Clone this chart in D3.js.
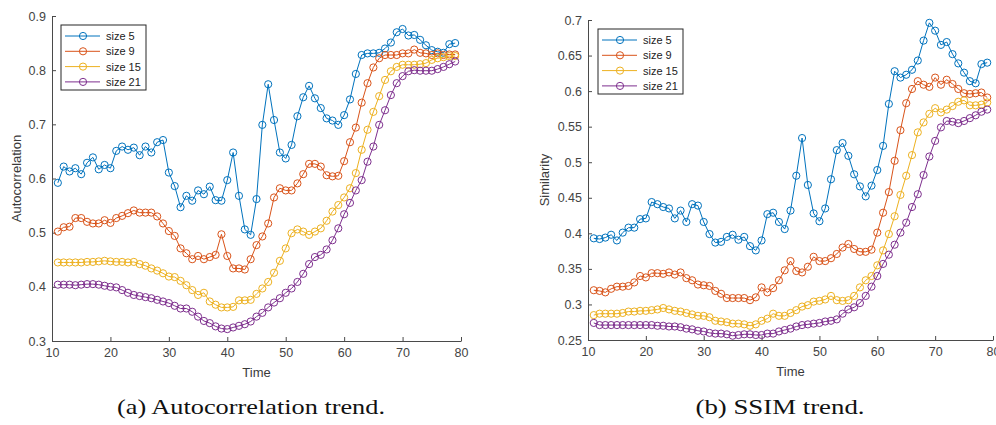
<!DOCTYPE html>
<html lang="en">
<head>
  <meta charset="UTF-8">
  <title>Autocorrelation and SSIM trend</title>
  <script src="https://d3js.org/d3.v7.min.js"></script>
  <style>
    body { margin: 0; background: #fff; }
    svg text { font-family: "Liberation Sans", Arial, sans-serif; }
    .tick text { font-size: 12.5px; fill: #444; }
    .tick line, .domain { stroke: #4a4a4a; }
    .caption { font-family: "Liberation Serif", serif !important; font-size: 22px; fill: #111; }
  </style>
</head>
<body>
  <div id="chart"></div>

  <script>
    const times = [11, 12, 13, 14, 15, 16, 17, 18, 19, 20, 21, 22, 23, 24, 25, 26, 27, 28, 29, 30,
      31, 32, 33, 34, 35, 36, 37, 38, 39, 40, 41, 42, 43, 44, 45, 46, 47, 48, 49, 50,
      51, 52, 53, 54, 55, 56, 57, 58, 59, 60, 61, 62, 63, 64, 65, 66, 67, 68, 69, 70,
      71, 72, 73, 74, 75, 76, 77, 78, 79];
    const seriesNames = ["size 5", "size 9", "size 15", "size 21"];
    const xTicks = [10, 20, 30, 40, 50, 60, 70, 80];
    const acTicks = [0.3, 0.4, 0.5, 0.6, 0.7, 0.8, 0.9];
    const ssTicks = [0.25, 0.3, 0.35, 0.4, 0.45, 0.5, 0.55, 0.6, 0.65, 0.7];

    // (a) autocorrelation
    const acSize5 = [.592, .622, .613, .619, .608, .629, .639, .617, .625, .619,
      .651, .659, .653, .657, .643, .659, .648, .667, .671, .611,
      .586, .547, .568, .559, .578, .571, .585, .560, .559, .597,
      .648, .568, .506, .496, .562, .699, .774, .708, .648, .637,
      .662, .715, .750, .771, .748, .730, .711, .707, .699, .717,
      .746, .793, .828, .831, .831, .832, .840, .851, .870, .876,
      .864, .865, .856, .846, .837, .834, .832, .848, .850];
    const acSize9 = [.502, .510, .511, .527, .527, .520, .517, .517, .523, .518,
      .527, .531, .536, .541, .537, .537, .537, .530, .517, .503,
      .494, .471, .462, .451, .457, .451, .455, .459, .497, .457,
      .434, .434, .432, .451, .477, .493, .517, .565, .582, .578,
      .578, .591, .608, .627, .627, .622, .606, .604, .605, .632,
      .667, .694, .740, .776, .805, .822, .828, .828, .828, .831,
      .831, .838, .832, .831, .828, .831, .828, .829, .829];
    const acSize15 = [.445, .445, .445, .445, .445, .446, .446, .447, .448, .447,
      .446, .446, .445, .446, .442, .439, .434, .430, .425, .419,
      .418, .411, .403, .394, .385, .389, .373, .367, .362, .362,
      .363, .375, .375, .376, .387, .397, .409, .426, .448, .471,
      .499, .506, .502, .496, .502, .508, .522, .539, .551, .565,
      .582, .610, .653, .690, .723, .752, .782, .798, .806, .810,
      .810, .810, .811, .813, .819, .822, .824, .826, .826];
    const acSize21 = [.404, .404, .404, .403, .404, .405, .405, .404, .402, .400,
      .399, .394, .389, .385, .383, .381, .379, .376, .373, .370,
      .365, .360, .360, .354, .345, .337, .333, .327, .323, .322,
      .325, .328, .331, .336, .345, .352, .362, .371, .379, .389,
      .397, .409, .424, .442, .455, .459, .469, .486, .508, .534,
      .555, .578, .597, .631, .659, .699, .726, .754, .776, .789,
      .798, .800, .799, .799, .799, .802, .806, .811, .816];

    // (b) SSIM
    const ssSize5 = [.393, .392, .394, .398, .390, .401, .408, .408, .420, .421,
      .444, .441, .437, .435, .421, .432, .416, .441, .439, .416,
      .399, .387, .388, .395, .398, .391, .395, .382, .376, .390,
      .427, .429, .416, .406, .432, .481, .534, .468, .428, .417,
      .435, .476, .517, .527, .509, .483, .466, .452, .467, .489,
      .523, .582, .628, .619, .623, .630, .643, .671, .696, .685,
      .665, .669, .652, .639, .626, .614, .611, .638, .640];
    const ssSize9 = [.320, .319, .317, .322, .325, .325, .326, .331, .340, .338,
      .344, .344, .343, .345, .342, .345, .337, .334, .328, .327,
      .326, .319, .315, .309, .309, .309, .309, .306, .310, .324,
      .317, .323, .334, .348, .361, .347, .345, .353, .367, .361,
      .361, .365, .371, .380, .385, .378, .374, .374, .377, .401,
      .429, .458, .502, .545, .583, .603, .614, .609, .606, .619,
      .609, .616, .610, .603, .597, .596, .597, .598, .591];
    const ssSize15 = [.285, .287, .287, .287, .287, .288, .290, .290, .291, .291,
      .292, .293, .295, .293, .291, .290, .288, .286, .284, .284,
      .282, .277, .276, .275, .273, .273, .272, .270, .272, .277,
      .280, .287, .284, .284, .288, .292, .297, .299, .304, .305,
      .307, .312, .306, .305, .306, .312, .324, .334, .340, .355,
      .376, .399, .424, .454, .481, .510, .542, .556, .568, .576,
      .570, .574, .579, .585, .587, .580, .580, .581, .584];
    const ssSize21 = [.274, .271, .271, .271, .271, .271, .271, .271, .271, .271,
      .271, .270, .270, .269, .269, .268, .266, .265, .263, .262,
      .260, .259, .259, .258, .256, .257, .258, .258, .257, .257,
      .259, .259, .262, .264, .266, .269, .271, .272, .273, .274,
      .276, .277, .279, .287, .293, .296, .302, .312, .325, .340,
      .357, .370, .384, .401, .415, .437, .455, .482, .508, .530,
      .549, .558, .557, .555, .558, .562, .566, .571, .574];

    const colors = ["#0072BD", "#D95319", "#EDB120", "#7E2F8E"];

    const svg = d3.select("#chart").append("svg")
      .attr("width", 996)
      .attr("height", 425);

    function drawPanel(opts) {
      const x = d3.scaleLinear().domain([10, 80]).range(opts.xRange);
      const y = d3.scaleLinear().domain(opts.yDomain).range(opts.yRange);
      const g = svg.append("g");

      g.append("g")
        .attr("transform", `translate(0,${opts.yRange[0]})`)
        .call(d3.axisBottom(x).tickValues(xTicks).tickSizeInner(-4).tickSizeOuter(0).tickPadding(7))
        .call(a => a.select(".domain").attr("stroke", "#4a4a4a"));

      g.append("g")
        .attr("transform", `translate(${opts.xRange[0]},0)`)
        .call(d3.axisLeft(y).tickValues(opts.yTicks).tickFormat(d => String(d))
          .tickSizeInner(-4).tickSizeOuter(0).tickPadding(6));

      g.selectAll(".tick text").attr("font-family", null);

      const line = d3.line().x((d, i) => x(times[i])).y(d => y(d));

      opts.series.forEach((vals, k) => {
        g.append("path")
          .datum(vals)
          .attr("fill", "none")
          .attr("stroke", colors[k])
          .attr("stroke-width", 1)
          .attr("d", line);
        g.selectAll(null)
          .data(vals)
          .enter()
          .append("circle")
          .attr("cx", (d, i) => x(times[i]))
          .attr("cy", d => y(d))
          .attr("r", 3.6)
          .attr("fill", "none")
          .attr("stroke", colors[k])
          .attr("stroke-width", 1);
      });

      // axis titles
      const midX = (opts.xRange[0] + opts.xRange[1]) / 2;
      const midY = (opts.yRange[0] + opts.yRange[1]) / 2;
      g.append("text")
        .attr("x", midX)
        .attr("y", opts.yRange[0] + 36)
        .attr("text-anchor", "middle")
        .attr("font-size", 13)
        .attr("fill", "#3a3a3a")
        .text("Time");
      g.append("text")
        .attr("transform", `translate(${opts.yLabelX},${midY}) rotate(-90)`)
        .attr("text-anchor", "middle")
        .attr("font-size", 13)
        .attr("fill", "#3a3a3a")
        .text(opts.yLabel);

      // legend
      const lg = g.append("g").attr("transform", `translate(${opts.legend[0]},${opts.legend[1]})`);
      lg.append("rect")
        .attr("width", 85)
        .attr("height", 65)
        .attr("fill", "#fff")
        .attr("stroke", "#262626")
        .attr("stroke-width", 1);
      seriesNames.forEach((name, k) => {
        const ly = 11 + k * 15.3;
        lg.append("line")
          .attr("x1", 4).attr("x2", 39)
          .attr("y1", ly).attr("y2", ly)
          .attr("stroke", colors[k]);
        lg.append("circle")
          .attr("cx", 22).attr("cy", ly).attr("r", 3.6)
          .attr("fill", "none").attr("stroke", colors[k]);
        lg.append("text")
          .attr("x", 45)
          .attr("y", ly + 4)
          .attr("font-size", 11)
          .attr("fill", "#222")
          .text(name);
      });

      // caption, stretched to the width of the original serif caption
      svg.append("text")
        .attr("class", "caption")
        .attr("x", opts.captionX)
        .attr("y", 414)
        .attr("text-anchor", "middle")
        .attr("textLength", opts.captionWidth)
        .attr("lengthAdjust", "spacingAndGlyphs")
        .text(opts.caption);
    }

    drawPanel({
      xRange: [52, 461], yRange: [341, 16], yDomain: [0.3, 0.9], yTicks: acTicks,
      yLabel: "Autocorrelation", yLabelX: 21, legend: [61, 25],
      series: [acSize5, acSize9, acSize15, acSize21],
      caption: "(a) Autocorrelation trend.", captionX: 251, captionWidth: 268
    });

    drawPanel({
      xRange: [588, 993], yRange: [340, 20], yDomain: [0.25, 0.7], yTicks: ssTicks,
      yLabel: "Similarity", yLabelX: 549, legend: [598, 29],
      series: [ssSize5, ssSize9, ssSize15, ssSize21],
      caption: "(b) SSIM trend.", captionX: 780, captionWidth: 169
    });
  </script>
</body>
</html>
